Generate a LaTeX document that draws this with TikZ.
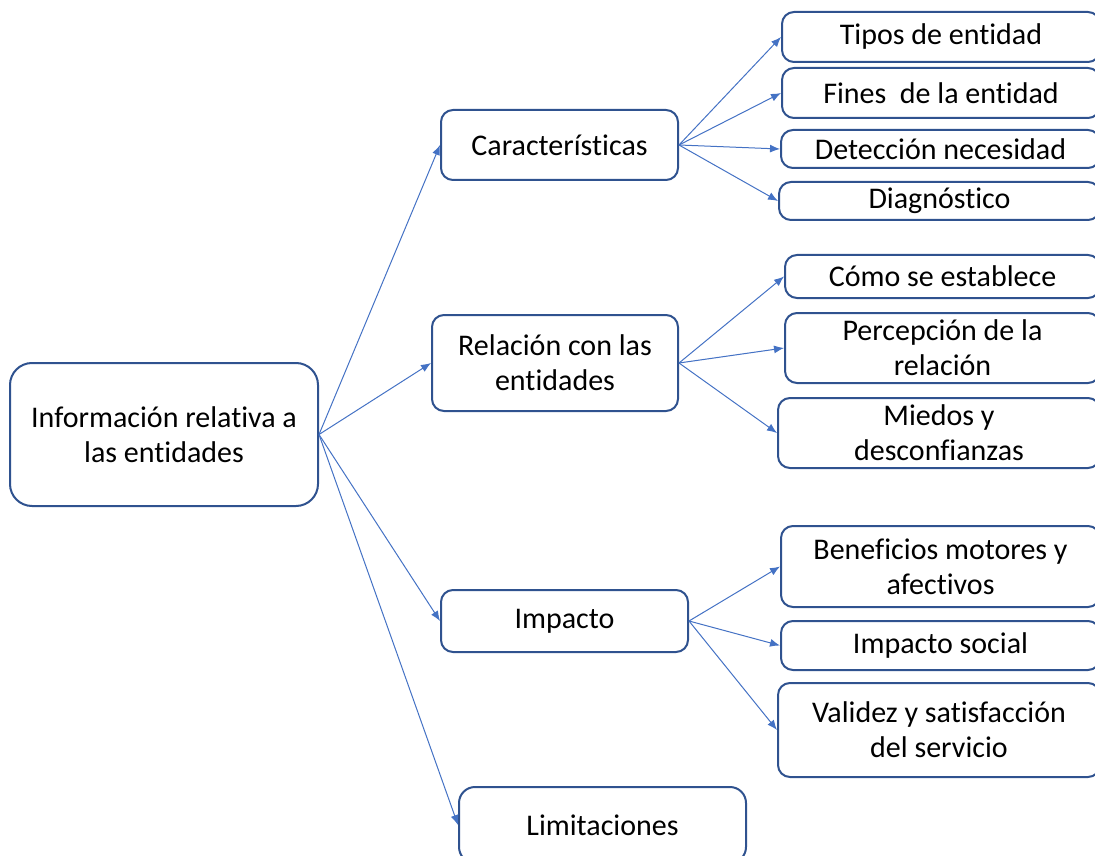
\documentclass[tikz,border=0pt]{standalone}
\usepackage{xcolor}
\usepackage{fontspec}
\setmainfont{Carlito}[Ligatures=NoCommon, RawFeature={-liga;-clig;-dlig}]
\usepackage{tikz}
\usetikzlibrary{arrows.meta}

\definecolor{boxline}{HTML}{2F528F}
\definecolor{arrowline}{HTML}{4472C4}

\begin{document}
\begin{tikzpicture}[x=0.5pt, y=-0.5pt, every node/.style={font=\fontsize{15}{17.5}\selectfont},
    box/.style={draw=boxline, line width=1pt, rounded corners=6pt, align=center, inner sep=0pt},
    link/.style={draw=arrowline, line width=0.5pt, -{Latex[length=5pt,width=4pt]}}]
    \clip (0,0) rectangle (1095,855);

    % Root box
    \node[box, rounded corners=11pt, minimum width=154pt, minimum height=71.5pt] (info) at (164,434.5) {Información relativa a\\las entidades};

    % Second level
    \node[box, minimum width=118.5pt, minimum height=35pt] (carac) at (559.5,145) {Características};
    \node[box, minimum width=123pt, minimum height=48pt] (relac) at (555,363) {Relación con las\\entidades};
    \node[box, minimum width=123.5pt, minimum height=31pt] (impac) at (564.5,621) {Impacto};
    \node[box, rounded corners=8pt, minimum width=143.5pt, minimum height=38pt] (limit) at (602.5,825) {Limitaciones};

    % Third level - Características
    \node[box, minimum width=159pt, minimum height=25pt] (tipos) at (941,37) {Tipos de entidad};
    \node[box, minimum width=159pt, minimum height=25pt] (fines) at (941,93) {Fines\ \ de la entidad};
    \node[box, minimum width=159.5pt, minimum height=19pt] (detec) at (940.5,149) {Detección necesidad};
    \node[box, minimum width=160.5pt, minimum height=19pt] (diagn) at (939.5,201) {Diagnóstico};

    % Third level - Relación
    \node[box, minimum width=157.5pt, minimum height=21.5pt] (como) at (942.5,276.5) {Cómo se establece};
    \node[box, minimum width=157.5pt, minimum height=35pt] (percep) at (942.5,348) {Percepción de la\\relación};
    \node[box, minimum width=161pt, minimum height=35pt] (miedos) at (939,433) {Miedos y\\desconfianzas};

    % Third level - Impacto
    \node[box, minimum width=159.5pt, minimum height=40.5pt] (benef) at (940.5,566.5) {Beneficios motores y\\afectivos};
    \node[box, minimum width=159.5pt, minimum height=24.5pt] (social) at (940.5,645.5) {Impacto social};
    \node[box, minimum width=161pt, minimum height=47pt] (valid) at (939,730) {Validez y satisfacción\\del servicio};

    % Edges from root
    \draw[link] (info.east) -- (carac.west);
    \draw[link] (info.east) -- (relac.west);
    \draw[link] (info.east) -- (impac.west);
    \draw[link] (info.east) -- (limit.west);

    % Edges from second level
    \draw[link] (carac.east) -- (tipos.west);
    \draw[link] (carac.east) -- (fines.west);
    \draw[link] (carac.east) -- (detec.west);
    \draw[link] (carac.east) -- (diagn.west);
    \draw[link] (relac.east) -- (como.west);
    \draw[link] (relac.east) -- (percep.west);
    \draw[link] (relac.east) -- (miedos.west);
    \draw[link] (impac.east) -- (benef.west);
    \draw[link] (impac.east) -- (social.west);
    \draw[link] (impac.east) -- (valid.west);
\end{tikzpicture}
\end{document}
